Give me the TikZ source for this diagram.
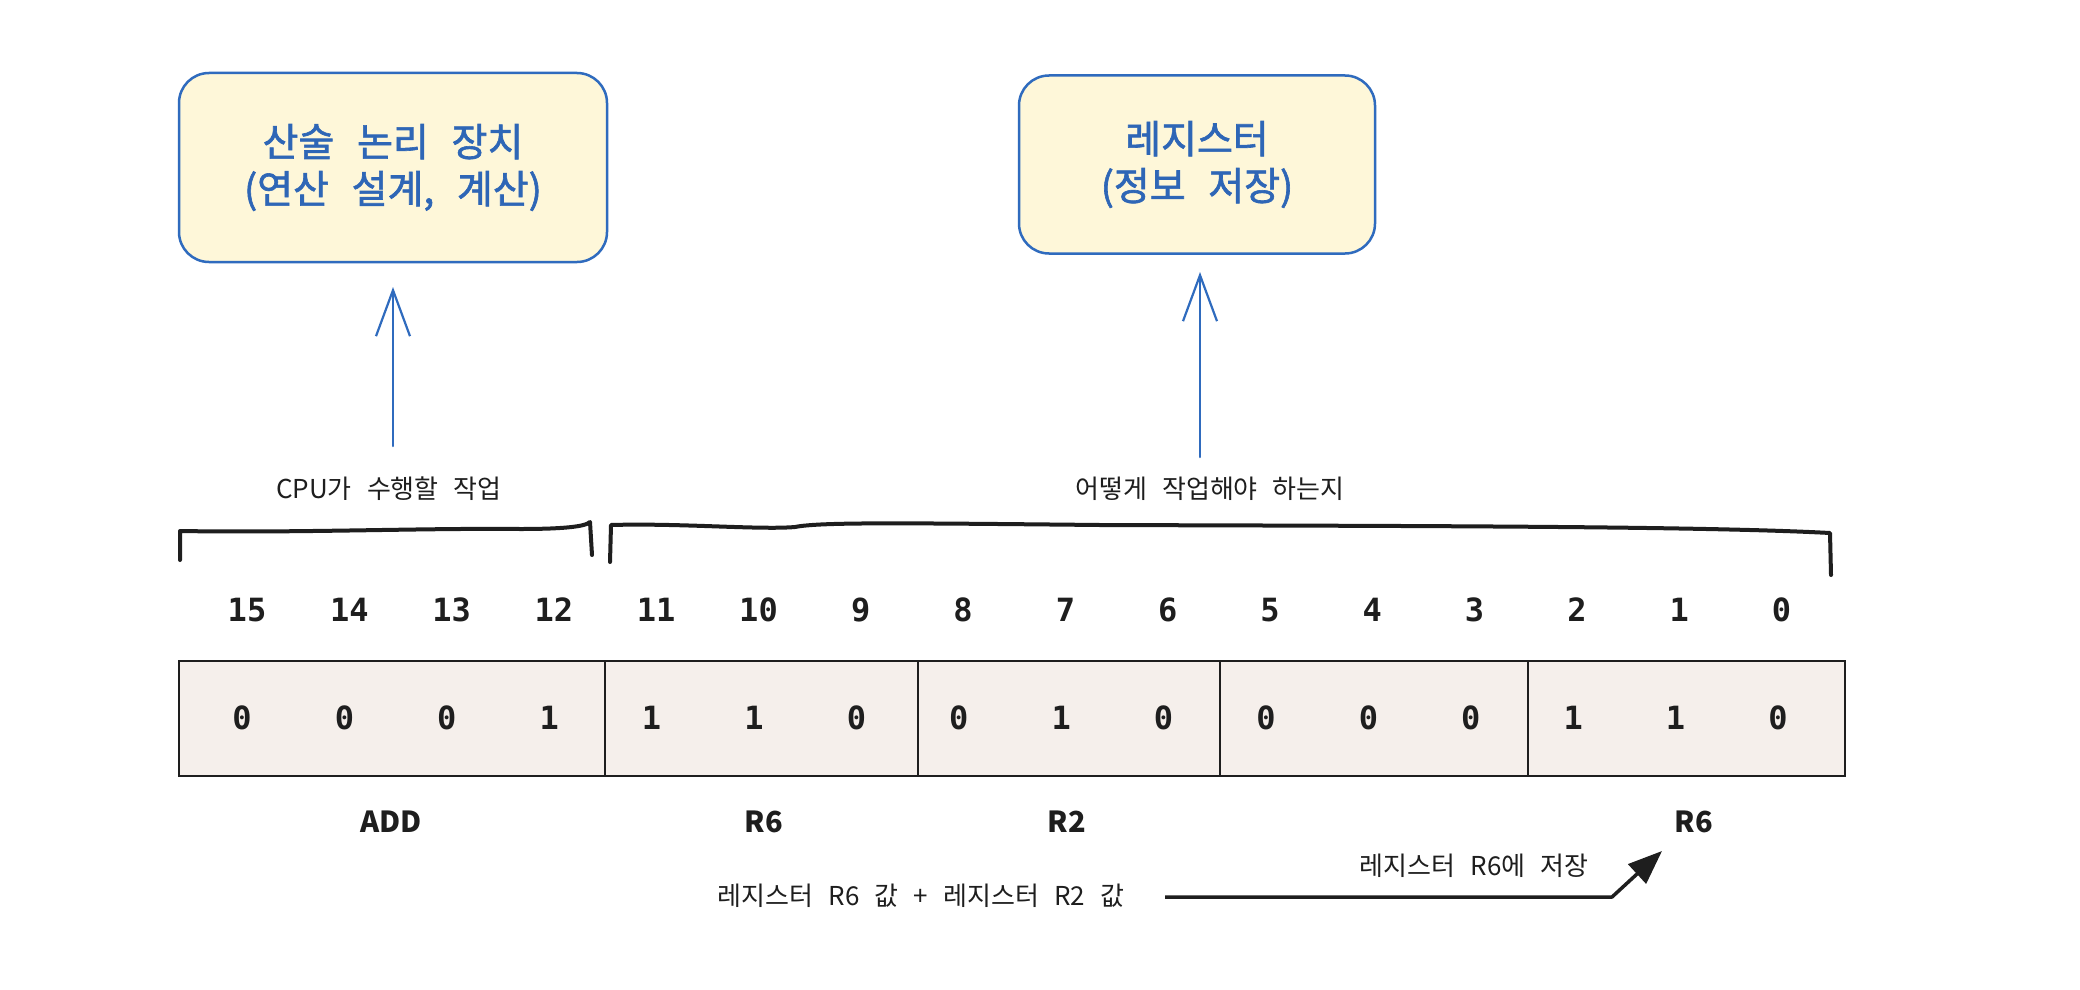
\documentclass[tikz,border=0pt]{standalone}
\usepackage{fontspec}
\usetikzlibrary{arrows.meta}
\newfontfamily\kr[WordSpace=2.6]{Noto Sans CJK KR}
\newfontfamily\krfb[WordSpace=2.6,FakeBold=1.6]{Noto Sans CJK KR}
\newfontfamily\dig{DejaVu Sans Mono}
\definecolor{boxfill}{HTML}{FEF7D9}
\definecolor{boxline}{HTML}{2F6BBE}
\definecolor{boxtext}{HTML}{2E66B6}
\definecolor{regfill}{HTML}{F5EFEB}
\definecolor{ink}{HTML}{1E1E1E}
\tikzset{
  unitbox/.style={draw=boxline, fill=boxfill, rounded corners=30pt, line width=2.5pt,
    align=center, text=boxtext, font=\krfb\fontsize{39}{47}\selectfont},
  bluearrow/.style={draw=boxline, line width=2.5pt, line cap=round,
    -{Straight Barb[length=46pt,width=34pt,line width=2.2pt]}},
  bracketline/.style={draw=ink, line width=4pt, line cap=round, line join=round},
  smalltext/.style={text=ink, font=\kr\fontsize{26}{32}\selectfont, inner sep=0pt},
  bitnum/.style={text=ink, font=\dig\bfseries\fontsize{32}{36}\selectfont, inner sep=0pt},
  fieldlabel/.style={text=ink, font=\kr\bfseries\fontsize{29}{34}\selectfont, inner sep=0pt},
  regbox/.style={draw=ink, fill=regfill, line width=2pt, inner sep=0pt},
  divider/.style={draw=ink, line width=1.6pt},
  blackarrow/.style={draw=ink, line width=3.5pt, line join=round,
    -{Triangle[length=34pt,width=26pt]}}
}
\begin{document}
\begin{tikzpicture}[x=1pt,y=-1pt]
\path[fill=white] (0,0) rectangle (2080,990);
\useasboundingbox (0,0) rectangle (2080,990);

% top boxes
\node[unitbox, minimum width=428pt, minimum height=189pt] (alu) at (393,167.5)
  {산술 논리 장치\\(연산 설계, 계산)};
\node[unitbox, minimum width=356pt, minimum height=178pt] (regunit) at (1197,164.5)
  {레지스터\\(정보 저장)};

% blue arrows
\coordinate (a1s) at (393,446);
\coordinate (a1e) at (393,287);
\coordinate (a2s) at (1200,457);
\coordinate (a2e) at (1200,272);
\draw[bluearrow] (a1s) -- (a1e);
\draw[bluearrow] (a2s) -- (a2e);

% labels above brackets
\node[smalltext] (opl) at (389,489) {CPU가 수행할 작업};
\node[smalltext] (howl) at (1210,489) {어떻게 작업해야 하는지};

% brackets
\draw[bracketline] (180,560) -- (180,531) .. controls (300,533) and (420,528) .. (520,529)
  .. controls (560,529) and (585,527) .. (590,522) -- (592,555);
\draw[bracketline] (610,562) -- (611,525) .. controls (680,523) and (760,530) .. (795,527)
  .. controls (820,522) and (900,523) .. (1100,525)
  .. controls (1400,526) and (1700,526) .. (1830,533) -- (1831,575);

% register box
\node[regbox, minimum width=1666pt, minimum height=115pt] (reg) at (1012,718.5) {};
\foreach \xx in {605,918,1220,1528}
  \draw[divider] (\xx,661) -- (\xx,776);

% bit numbers
\foreach \i in {0,...,15} {
  \pgfmathtruncatemacro{\bn}{15-\i}
  \node[bitnum] (bit\i) at ({247+102.3*\i},610) {\bn};
}
% bit values
\foreach \v [count=\i from 0] in {0,0,0,1,1,1,0,0,1,0,0,0,0,1,1,0} {
  \node[bitnum] (val\i) at ({242+102.4*\i},718) {\v};
}

% field labels
\node[fieldlabel] (addl) at (391,822) {ADD};
\node[fieldlabel] (r6a) at (764,822) {R6};
\node[fieldlabel] (r2) at (1067,822) {R2};
\node[fieldlabel] (r6b) at (1694,822) {R6};

% bottom notes
\node[smalltext] (sumtext) at (921,896) {레지스터 R6 값 + 레지스터 R2 값};
\node[smalltext] (storetext) at (1474,866) {레지스터 R6에 저장};

\coordinate (bs) at (1165,897);
\coordinate (bm) at (1612,897);
\coordinate (be) at (1662,851);
\draw[blackarrow] (bs) -- (bm) -- (be);
\end{tikzpicture}
\end{document}
